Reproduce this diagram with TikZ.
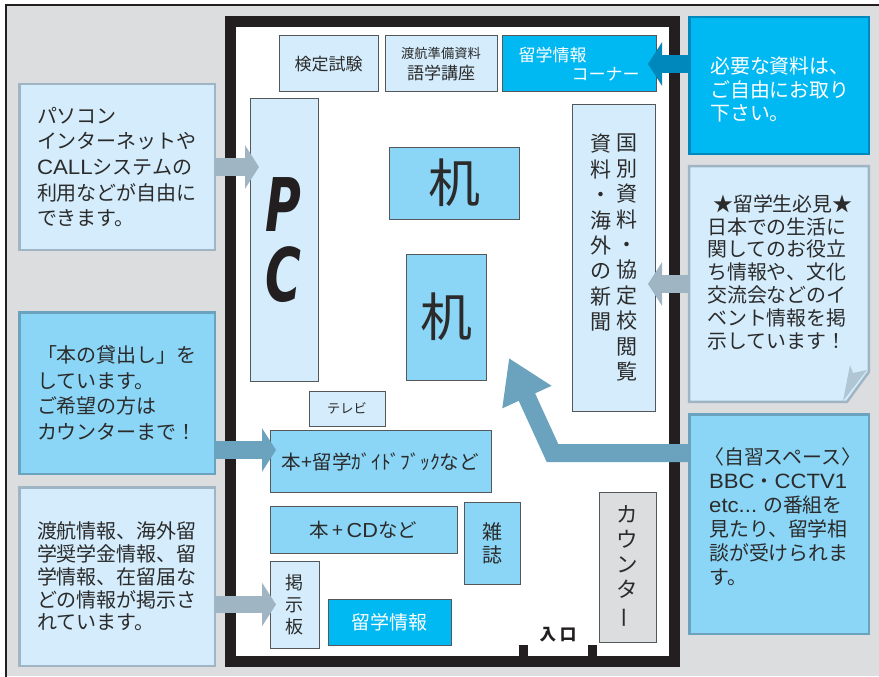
\documentclass[tikz,border=0pt]{standalone}
\usepackage{fontspec}
\setmainfont{Noto Sans CJK JP}
\newfontfamily\pcfont{DejaVu Sans}
\newfontfamily\latfont[Scale=1.04,FakeStretch=1.07]{Liberation Sans}
\usetikzlibrary{arrows.meta}
\definecolor{panel}{HTML}{DCDDDF}
\definecolor{pale}{HTML}{D4ECFB}
\definecolor{sky}{HTML}{8BD6F7}
\definecolor{cyanbox}{HTML}{00B9F2}
\definecolor{steel}{HTML}{A0B5C4}
\definecolor{steelblue}{HTML}{6BA3BE}
\definecolor{deepblue}{HTML}{0088BC}
\definecolor{wall}{HTML}{231F20}
\definecolor{edge}{HTML}{55585A}
\definecolor{ink}{HTML}{2B2B2B}
\begin{document}
\begin{tikzpicture}[x=1pt, y=-1pt, text=ink, line join=miter,
  fnt/.style 2 args = {font=\fontsize{#1}{#2}\selectfont},
  info/.style = {draw=#1, line width=2.5, inner sep=0pt, align=left},
  paleinfo/.style = {info=steel, fill=pale, fnt={20}{25.7}},
  skyinfo/.style = {info=steelblue, fill=sky, fnt={20}{25.7}},
  room/.style = {draw=edge, line width=1, inner sep=0pt, align=center},
  paleroom/.style = {room, fill=pale},
  skyroom/.style = {room, fill=sky},
  cyanroom/.style = {room, fill=cyanbox, text=white},
  msg/.style = {inner sep=0pt, align=left, anchor=west},
  column/.style = {inner sep=0pt, align=center, anchor=north, fnt={21}{25.4}},
  pcletter/.style = {inner sep=0pt, font=\pcfont\bfseries\itshape\fontsize{74}{76}\selectfont, text=wall},
  greyarrow/.style = {draw=steel, line width=17.5, -{Triangle[width=43pt,length=14pt]}},
  bluearrow/.style = {draw=steelblue, line width=17.5, -{Triangle[width=43pt,length=14pt]}},
  deeparrow/.style = {draw=deepblue, line width=17.5, -{Triangle[width=43pt,length=14pt]}}]
  \useasboundingbox (0,0) rectangle (879,677);
  \fill[panel] (6,5) rectangle (879,676);
  \draw[wall, line width=2.4] (6,677) -- (6,5) -- (879,5);
  \draw[wall, line width=11, fill=white] (230.5,21.7) rectangle (674.4,661);
  \fill[wall] (519,645) rectangle (528,660);
  \fill[wall] (588,645) rectangle (597,660);

  \node[paleinfo, minimum width=195.5, minimum height=165.5] (pcinfo) at (117,167) {パソコン\\インターネットや\\{\latfont CALL}システムの\\利用などが自由に\\できます。};
  \node[skyinfo, minimum width=195.5, minimum height=161.5] (lend) at (117,393) {「本の貸出し」を\\しています。\\ご希望の方は\\カウンターまで！};
  \node[paleinfo, fnt={20}{22.7}, minimum width=195.5, minimum height=178.5] (boardinfo) at (117,576.5) {渡航情報、海外留\\学奨学金情報、留\\学情報、在留届な\\どの情報が掲示さ\\れています。};
  \node[info=deepblue, fill=cyanbox, minimum width=179.5, minimum height=136.5] (stock) at (779,85.5) {};
  \node[msg, text=white, fnt={19.9}{23.4}] (stockmsg) at (710,89.5) {必要な資料は、\\ご自由にお取り\\下さい。};
  \draw[steel, line width=2.5, fill=pale] (689.2,166.2) -- (868.8,166.2) -- (868.8,372) -- (847,401.8) -- (689.2,401.8) -- cycle;
  \fill[steel!70!pale] (843,401) -- (850,365) -- (853,373) -- (867,370) -- cycle;
  \coordinate (note) at (688,284);
  \node[msg, fnt={19.9}{22.8}] (notemsg) at (707,272) {\hspace*{6pt}★留学生必見★\\日本での生活に\\関してのお役立\\ち情報や、文化\\交流会などのイ\\ベント情報を掲\\示しています！};
  \node[info=steelblue, fill=sky, minimum width=179.5, minimum height=219.5] (self) at (779,524) {};
  \node[msg, fnt={19.9}{24}] (selfmsg) at (709,517) {\hspace*{-5pt}〈自習スペース〉\\{\latfont BBC}・{\latfont CCTV1}\\{\latfont etc...} の番組を\\見たり、留学相\\談が受けられま\\す。};

  \node[paleroom, fnt={17}{20}, minimum width=99, minimum height=56] (exam) at (328.5,64) {検定試験};
  \node[paleroom, minimum width=112, minimum height=56] (prep) at (441,64) {\fontsize{13.3}{21}\selectfont 渡航準備資料\\[4pt]\fontsize{17}{21}\selectfont 語学講座};
  \node[cyanroom, align=left, fnt={17}{19.5}, minimum width=154, minimum height=56] (corner) at (579,64) {留学情報\\\hspace*{53pt}コーナー};
  \node[paleroom, minimum width=68, minimum height=282] (pc) at (284,240) {};
  \node[pcletter] (pcp) at (283,205) {\scalebox{.66}[1]{P}};
  \node[pcletter] (pcc) at (283,275) {\scalebox{.66}[1]{C}};
  \node[skyroom, fnt={52}{54}, minimum width=130, minimum height=72] (desktop) at (454,183) {机};
  \node[skyroom, fnt={52}{54}, minimum width=80, minimum height=126] (deskmid) at (446,317) {机};
  \node[paleroom, minimum width=83, minimum height=306] (national) at (613.5,258) {};
  \node[column] (nationr) at (626.5,134) {国\\別\\資\\料\\・\\協\\定\\校\\閲\\覧};
  \node[column] (nationl) at (600.5,134) {資\\料\\・\\海\\外\\の\\新\\聞};
  \node[paleroom, fnt={13.2}{16}, minimum width=76, minimum height=35] (tv) at (347,408.5) {テレビ};
  \node[skyroom, fnt={19.6}{22}, minimum width=221, minimum height=62] (guide) at (380.5,461.5) {本+留学ｶﾞｲﾄﾞﾌﾞｯｸなど};
  \node[skyroom, fnt={19.5}{22}, minimum width=187, minimum height=47] (cdbook) at (363.5,530) {本\,+\,{\latfont CD}など};
  \node[skyroom, fnt={20}{23}, minimum width=56, minimum height=82] (mag) at (492,543) {雑\\誌};
  \node[paleroom, fnt={18}{22}, minimum width=49, minimum height=87] (board) at (294.5,604.5) {掲\\示\\板};
  \node[cyanroom, fnt={19}{22}, minimum width=123, minimum height=46] (abroad) at (389.5,622) {留学情報};
  \node[room, fill=panel, fnt={21.5}{25}, minimum width=57, minimum height=150] (counter) at (627.5,567) {カ\\ウ\\ン\\タ\\\rotatebox[origin=c]{90}{ー}};
  \node[inner sep=0pt, font=\fontsize{16.5}{18}\selectfont\bfseries, text=wall] (entry) at (558,635) {入 口};

  \coordinate (pctip) at (259,167);
  \coordinate (guidetip) at (276,450);
  \coordinate (boardtip) at (276,604.5);
  \coordinate (cornertip) at (648,64);
  \coordinate (nationtip) at (648,284);
  \coordinate (selfbend) at (552.5,453);
  \coordinate (selftip) at (509,358);
  \draw[greyarrow] (pcinfo.east) -- (pctip);
  \draw[bluearrow] (lend.east |- guidetip) -- (guidetip);
  \draw[greyarrow] (boardinfo.east |- boardtip) -- (boardtip);
  \draw[deeparrow] (stock.west |- cornertip) -- (cornertip);
  \draw[greyarrow] (note) -- (nationtip);
  \draw[draw=steelblue, line width=18, -{Triangle[width=51pt,length=43pt]}] (self.west |- selfbend) -- (selfbend) -- (selftip);
\end{tikzpicture}
\end{document}
